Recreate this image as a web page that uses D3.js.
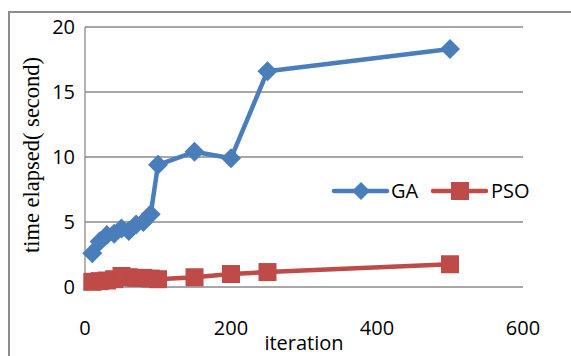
<!DOCTYPE html>
<html>
<head>
<meta charset="utf-8">
<script src="https://cdn.jsdelivr.net/npm/d3@7"></script>
<style>
  body { margin: 0; background: #fff; }
  svg { display: block; }
</style>
</head>
<body>
<svg id="chart"></svg>
<script>
// data
var iterations = [10, 20, 30, 40, 50, 60, 70, 80, 90, 100, 150, 200, 250, 500];
var gaTime = [2.6, 3.5, 4.0, 4.1, 4.5, 4.3, 4.8, 5.0, 5.6, 9.4, 10.4, 9.9, 16.6, 18.3];
var psoTime = [0.4, 0.45, 0.5, 0.6, 0.85, 0.75, 0.7, 0.7, 0.65, 0.6, 0.75, 1.0, 1.15, 1.75];
var xTicks = [0, 200, 400, 600];
var yTicks = [0, 5, 10, 15, 20];
var seriesNames = ['GA', 'PSO'];

var W = 571, H = 356;
var svg = d3.select('#chart').attr('width', W).attr('height', H);

// outer chart frame (runs off right/bottom edge)
svg.append('rect')
  .attr('x', 9).attr('y', 12)
  .attr('width', 600).attr('height', 400)
  .attr('fill', 'none')
  .attr('stroke', '#8c8c8c')
  .attr('stroke-width', 2);

var x = d3.scaleLinear().domain([0, 600]).range([85, 523]);
var y = d3.scaleLinear().domain([0, 20]).range([287, 27]);

// gridlines
svg.append('g')
  .selectAll('line')
  .data(yTicks)
  .join('line')
  .attr('x1', x(0)).attr('x2', x(600))
  .attr('y1', d => y(d)).attr('y2', d => y(d))
  .attr('stroke', '#8a8a8a')
  .attr('stroke-width', 1.3);

// y axis line
svg.append('line')
  .attr('x1', x(0)).attr('x2', x(0))
  .attr('y1', y(0)).attr('y2', y(20))
  .attr('stroke', '#8a8a8a')
  .attr('stroke-width', 1.3);

var labelFont = "'Open Sans', sans-serif";

// y tick labels
svg.append('g')
  .selectAll('text')
  .data(yTicks)
  .join('text')
  .attr('x', 75)
  .attr('y', d => y(d))
  .attr('dy', '0.36em')
  .attr('text-anchor', 'end')
  .attr('font-family', labelFont)
  .attr('font-size', 20)
  .attr('fill', '#000')
  .text(d => d);

// x tick labels
svg.append('g')
  .selectAll('text')
  .data(xTicks)
  .join('text')
  .attr('x', d => x(d))
  .attr('y', 335)
  .attr('text-anchor', 'middle')
  .attr('font-family', labelFont)
  .attr('font-size', 20)
  .attr('fill', '#000')
  .text(d => d);

// axis titles
svg.append('text')
  .attr('transform', 'translate(39,155) rotate(-90)')
  .attr('text-anchor', 'middle')
  .attr('font-family', "'Liberation Serif', 'Times New Roman', serif")
  .attr('font-size', 22.5)
  .attr('fill', '#000')
  .text('time elapsed( second)');

svg.append('text')
  .attr('x', 304)
  .attr('y', 350)
  .attr('text-anchor', 'middle')
  .attr('font-family', labelFont)
  .attr('font-size', 20)
  .attr('fill', '#000')
  .text('iteration');

var gaColor = '#4a7ebb', psoColor = '#be4b48';

var line = d3.line()
  .x(d => x(d[0]))
  .y(d => y(d[1]));

var gaPts = iterations.map((it, i) => [it, gaTime[i]]);
var psoPts = iterations.map((it, i) => [it, psoTime[i]]);

// PSO first (GA drawn on top)
svg.append('path')
  .datum(psoPts)
  .attr('d', line)
  .attr('fill', 'none')
  .attr('stroke', psoColor)
  .attr('stroke-width', 4.5)
  .attr('stroke-linejoin', 'round');

svg.append('g')
  .selectAll('rect')
  .data(psoPts)
  .join('rect')
  .attr('x', d => x(d[0]) - 9)
  .attr('y', d => y(d[1]) - 9)
  .attr('width', 18).attr('height', 18)
  .attr('fill', psoColor);

svg.append('path')
  .datum(gaPts)
  .attr('d', line)
  .attr('fill', 'none')
  .attr('stroke', gaColor)
  .attr('stroke-width', 4.5)
  .attr('stroke-linejoin', 'round');

var diamond = 'M0,-10L10,0L0,10L-10,0Z';
svg.append('g')
  .selectAll('path')
  .data(gaPts)
  .join('path')
  .attr('transform', d => 'translate(' + x(d[0]) + ',' + y(d[1]) + ')')
  .attr('d', diamond)
  .attr('fill', gaColor);

// legend
var legend = svg.append('g');
var legendItems = [
  { name: seriesNames[0], color: gaColor, x0: 334, tx: 391 },
  { name: seriesNames[1], color: psoColor, x0: 433, tx: 491 }
];
var ly = 191;
legendItems.forEach(function(it, i) {
  legend.append('line')
    .attr('x1', it.x0).attr('x2', it.x0 + 53)
    .attr('y1', ly).attr('y2', ly)
    .attr('stroke', it.color)
    .attr('stroke-width', 4.5)
    .attr('stroke-linecap', 'round');
  if (i === 0) {
    legend.append('path')
      .attr('transform', 'translate(' + (it.x0 + 27) + ',' + ly + ')')
      .attr('d', 'M0,-9L9,0L0,9L-9,0Z')
      .attr('fill', it.color);
  } else {
    legend.append('rect')
      .attr('x', it.x0 + 27 - 9).attr('y', ly - 9)
      .attr('width', 18).attr('height', 18)
      .attr('fill', it.color);
  }
  legend.append('text')
    .attr('x', it.tx)
    .attr('y', ly)
    .attr('dy', '0.36em')
    .attr('font-family', labelFont)
    .attr('font-size', 20)
    .attr('fill', '#000')
    .text(it.name);
});
</script>
</body>
</html>
